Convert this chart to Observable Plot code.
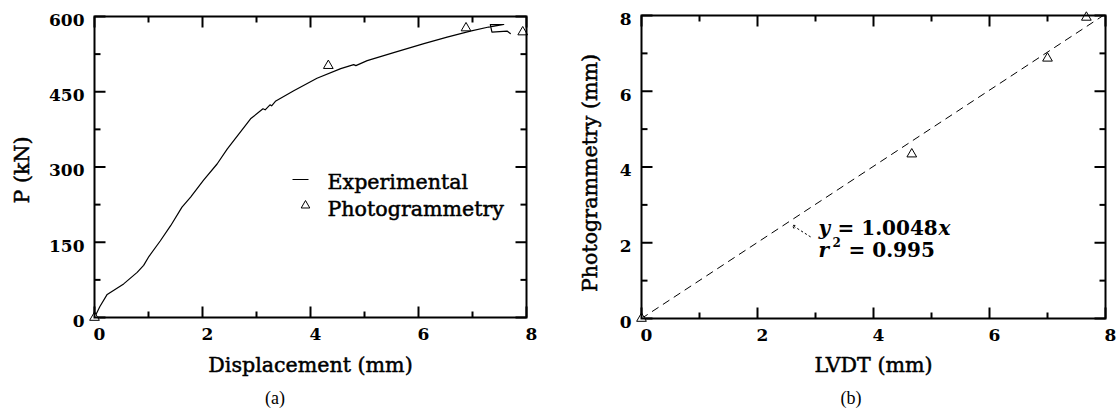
<!DOCTYPE html>
<html><head><meta charset="utf-8">
<script src="https://cdn.jsdelivr.net/npm/d3@7"></script>
<script src="https://cdn.jsdelivr.net/npm/@observablehq/plot@0.6"></script>
<style>
body{margin:0;background:#fff;}
#wrap{display:flex;width:1118px;}
.panel{flex:none;}
#pa{width:560px;} #pb{width:558px;}
.cap{font-family:"Liberation Serif",serif;font-size:18px;line-height:24px;height:25px;text-align:center;color:#000;}
</style></head><body>
<div id="wrap"><div class="panel" id="pa"></div><div class="panel" id="pb"></div></div>
<script>
// ---- data (a): load-displacement curve
const dispX = [0, 0.10, 0.235, 0.54, 0.79, 0.91, 1.01, 1.22, 1.41, 1.62, 1.78, 2.02, 2.27, 2.46, 2.89, 3.12, 3.16, 3.25, 3.28, 3.35, 3.69, 4.12, 4.56, 4.80, 4.84, 5.05, 5.54, 6.10, 6.53, 6.96, 7.30, 7.58, 7.33, 7.36, 7.64, 7.70];
const loadP = [0, 22, 46, 67, 90, 104, 122, 153, 183, 220, 240, 274, 306, 336, 396, 416, 414, 424, 422, 431, 452, 477, 496, 504, 502, 512, 528, 546, 559, 571, 579, 584, 584, 569, 571, 566];
// photogrammetry points on (a)
const photoDisp = [0, 4.33, 6.88, 7.93];
const photoP = [0, 502, 577, 569];
// ---- data (b): LVDT vs photogrammetry
const lvdt = [0, 4.66, 7.0, 7.67];
const photo = [0, 4.34, 6.87, 7.95];
const fitSlope = 1.0048;
const fitR2 = 0.995;
const fitX = [0, 8];
// ---- ticks
const aXMajor = [0, 2, 4, 6, 8], aXMinor = [1, 3, 5, 7];
const aYMajor = [0, 150, 300, 450, 600], aYMinor = [75, 225, 375, 525];
const bXMajor = [0, 2, 4, 6, 8], bXMinor = [1, 3, 5, 7];
const bYMajor = [0, 2, 4, 6, 8], bYMinor = [1, 3, 5, 7];
// annotation arrow on (b), in data units
const annotArrow = [{x1: 2.91, y1: 2.16, x2: 2.6, y2: 2.46}];

const FONT = "DejaVu Serif";
const INK = "#000";
const seg = (dx, dy) => ({draw(ctx) { ctx.moveTo(0, 0); ctx.lineTo(dx, dy); }});

// inward ticks on all four sides; lengths given in pixels, converted with the frame size
function axes(xDom, yDom, fw, fh, xMaj, xMin, yMaj, yMin) {
  const kx = (xDom[1] - xDom[0]) / fw, ky = (yDom[1] - yDom[0]) / fh;
  const ts = {stroke: "#000", strokeWidth: 2};
  const tick = [];
  for (const [list, len] of [[xMaj, 11], [xMin, 6]]) for (const v of list) {
    tick.push({x1: v, x2: v, y1: yDom[0], y2: yDom[0] + len * ky});
    tick.push({x1: v, x2: v, y1: yDom[1], y2: yDom[1] - len * ky});
  }
  for (const [list, len] of [[yMaj, 11], [yMin, 6]]) for (const v of list) {
    tick.push({y1: v, y2: v, x1: xDom[0], x2: xDom[0] + len * kx});
    tick.push({y1: v, y2: v, x1: xDom[1], x2: xDom[1] - len * kx});
  }
  const lab = {tickSize: 0, tickPadding: 10, fontSize: 17, fontWeight: "bold", fontFamily: FONT, label: null, fill: INK};
  return [
    Plot.link(tick, {x1: "x1", y1: "y1", x2: "x2", y2: "y2", ...ts}),
    Plot.axisX({anchor: "bottom", ticks: xMaj, dx: 5, ...lab}),
    Plot.axisY({anchor: "left", ticks: yMaj, dy: 4, ...lab})
  ];
}
const hline = seg(16, 0);
const labelFont = {fontFamily: FONT, fontSize: 20.6, fill: INK, stroke: INK, strokeWidth: 0.5, lineAnchor: "middle"};

// ---------- (a)
const curve = dispX.map((x, i) => ({x, p: loadP[i]}));
const pts = photoDisp.map((x, i) => ({x, p: photoP[i]}));
const aX = [0, 8], aY = [0, 600];
const A = Plot.plot({
  width: 560, height: 386,
  marginLeft: 94, marginRight: 34, marginTop: 16, marginBottom: 69,
  style: {fontFamily: FONT, background: "#fff", color: INK},
  x: {domain: aX, label: null},
  y: {domain: aY, label: null},
  marks: [
    ...axes(aX, aY, 560 - 94 - 34, 386 - 16 - 69, aXMajor, aXMinor, aYMajor, aYMinor),
    Plot.line(curve, {x: "x", y: "p", stroke: INK, strokeWidth: 1.2}),
    Plot.dot(pts, {x: "x", y: "p", symbol: "triangle", r: 3.6, stroke: INK, fill: "white", strokeWidth: 1}),
    Plot.frame({stroke: INK, strokeWidth: 2}),
    Plot.text(["Displacement (mm)"], {text: d => d, frameAnchor: "bottom", dy: 48, textAnchor: "middle", ...labelFont}),
    Plot.text(["P (kN)"], {text: d => d, frameAnchor: "left", dx: -72, dy: 3, rotate: -90, textAnchor: "middle", ...labelFont}),
    // legend
    Plot.dot([0], {x: null, y: null, frameAnchor: "top-left", dx: 198, dy: 163, symbol: hline, stroke: INK, strokeWidth: 1}),
    Plot.dot([0], {x: null, y: null, frameAnchor: "top-left", dx: 211, dy: 189, symbol: "triangle", r: 3.2, stroke: INK, fill: "white", strokeWidth: 1}),
    Plot.text(["Experimental"], {text: d => d, frameAnchor: "top-left", dx: 233, dy: 166, textAnchor: "start", ...labelFont}),
    Plot.text(["Photogrammetry"], {text: d => d, frameAnchor: "top-left", dx: 233, dy: 193, textAnchor: "start", ...labelFont})
  ]
});
const pa = document.getElementById("pa");
pa.append(A);
const ca = document.createElement("div"); ca.className = "cap"; ca.style.paddingRight = "10px"; ca.textContent = "(a)"; pa.append(ca);

// ---------- (b)
const bpts = lvdt.map((x, i) => ({x, y: photo[i]}));
const fit = fitX.map(x => ({x, y: fitSlope * x}));
const bX = [0, 8], bY = [0, 8];
const annFont = {fontFamily: FONT, fontSize: 20, fontWeight: "bold", fill: INK, textAnchor: "start", frameAnchor: "top-left", lineAnchor: "middle"};
const B = Plot.plot({
  width: 558, height: 386,
  marginLeft: 81, marginRight: 13, marginTop: 15, marginBottom: 68,
  style: {fontFamily: FONT, background: "#fff", color: INK},
  x: {domain: bX, label: null},
  y: {domain: bY, label: null},
  marks: [
    ...axes(bX, bY, 558 - 81 - 13, 386 - 15 - 68, bXMajor, bXMinor, bYMajor, bYMinor),
    Plot.line(fit, {x: "x", y: "y", stroke: INK, strokeWidth: 1, strokeDasharray: "7,6", clip: true}),
    Plot.dot(bpts, {x: "x", y: "y", symbol: "triangle", r: 3.6, stroke: INK, fill: "white", strokeWidth: 1}),
    Plot.arrow(annotArrow, {x1: "x1", y1: "y1", x2: "x2", y2: "y2", stroke: INK, strokeWidth: 1, strokeDasharray: "1.5,3", headLength: 5}),
    Plot.frame({stroke: INK, strokeWidth: 2}),
    Plot.text(["LVDT (mm)"], {text: d => d, frameAnchor: "bottom", dy: 47, textAnchor: "middle", ...labelFont}),
    Plot.text(["Photogrammetry (mm)"], {text: d => d, frameAnchor: "left", dx: -51, dy: 6, rotate: -90, textAnchor: "middle", ...labelFont}),
    Plot.text(["y"], {text: d => d, dx: 177, dy: 213, ...annFont, fontStyle: "italic"}),
    Plot.text([`= ${fitSlope}`], {text: d => d, dx: 196, dy: 213, ...annFont}),
    Plot.text(["x"], {text: d => d, dx: 297, dy: 213, ...annFont, fontStyle: "italic"}),
    Plot.text(["r"], {text: d => d, dx: 177, dy: 235, ...annFont, fontStyle: "italic"}),
    Plot.text(["2"], {text: d => d, dx: 191, dy: 228, ...annFont, fontSize: 12}),
    Plot.text([`= ${fitR2}`], {text: d => d, dx: 207, dy: 235, ...annFont})
  ]
});
const pb = document.getElementById("pb");
pb.append(B);
const cb = document.createElement("div"); cb.className = "cap"; cb.style.paddingLeft = "24px"; cb.textContent = "(b)"; pb.append(cb);
</script>
</body></html>
